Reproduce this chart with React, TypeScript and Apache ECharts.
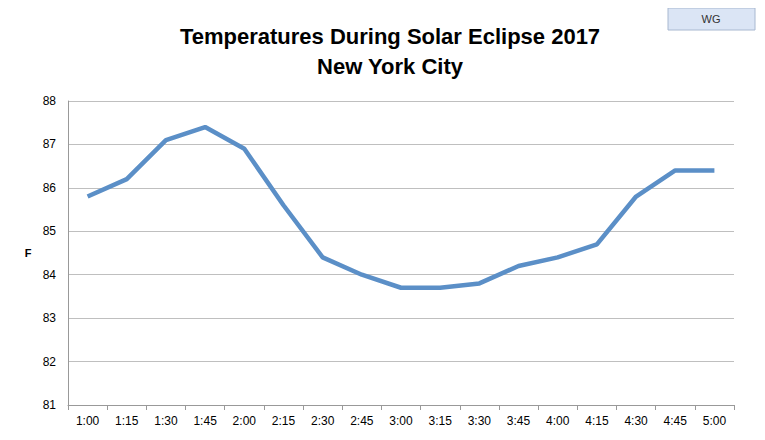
import { useRef, useEffect } from "react";
import * as echarts from "echarts";

const times = ["1:00", "1:15", "1:30", "1:45", "2:00", "2:15", "2:30", "2:45", "3:00", "3:15", "3:30", "3:45", "4:00", "4:15", "4:30", "4:45", "5:00"];
const temps = [85.8, 86.2, 87.1, 87.4, 86.9, 85.6, 84.4, 84.0, 83.7, 83.7, 83.8, 84.2, 84.4, 84.7, 85.8, 86.4, 86.4];

export default function App() {
  const chartRef = useRef<HTMLDivElement>(null);

  useEffect(() => {
    if (!chartRef.current) return;
    const chart = echarts.init(chartRef.current, null, { renderer: "svg" });
    chart.setOption({
      animation: false,
      textStyle: { fontFamily: "Liberation Sans" },
      title: {
        text: "Temperatures During Solar Eclipse 2017\nNew York City",
        left: 385,
        textAlign: "center",
        top: 16,
        textStyle: { fontSize: 22, fontWeight: "bold", color: "#000", lineHeight: 30 },
      },
      graphic: [
        {
          type: "rect",
          shape: { x: 668, y: 8, width: 87, height: 22 },
          style: { fill: "#dbe5f5", stroke: "#a8b8d0", lineWidth: 1 },
        },
        {
          type: "text",
          x: 711, y: 19,
          style: { text: "WG", fill: "#333", font: "11px Liberation Sans", align: "center", verticalAlign: "middle" },
        },
        {
          type: "text",
          x: 28, y: 253,
          style: { text: "F", fill: "#000", font: "bold 11px Liberation Sans", align: "center", verticalAlign: "middle" },
        },
      ],
      grid: { left: 68, right: 31, top: 101, bottom: 35 },
      xAxis: {
        type: "category",
        data: times,
        boundaryGap: true,
        axisLine: { lineStyle: { color: "#999" } },
        axisTick: { show: true, lineStyle: { color: "#999" } },
        axisLabel: { color: "#000", fontSize: 12, margin: 10 },
      },
      yAxis: {
        type: "value",
        min: 81,
        max: 88,
        interval: 1,
        axisLine: { show: true, lineStyle: { color: "#999" } },
        axisLabel: { color: "#000", fontSize: 12, margin: 12 },
        splitLine: { lineStyle: { color: "#bfbfbf" } },
      },
      series: [
        {
          type: "line",
          data: temps,
          showSymbol: false,
          lineStyle: { color: "#5b8fc7", width: 4.5 },
          itemStyle: { color: "#5b8fc7" },
        },
      ],
    });
    return () => chart.dispose();
  }, []);

  return <div ref={chartRef} style={{ width: 765, height: 440, margin: -8 }} />;
}
